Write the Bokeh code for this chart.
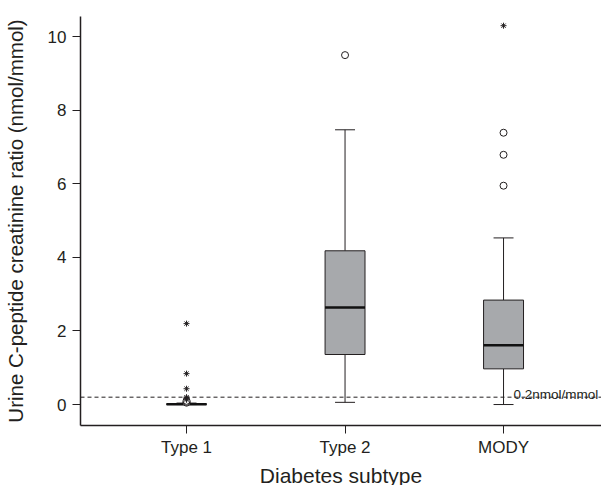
from bokeh.plotting import figure
from bokeh.models import Range1d, Span, Label, FixedTicker, ColumnDataSource
from bokeh.transform import dodge
from bokeh.embed import file_html
from bokeh.resources import INLINE

# ---- data ----
categories = ["Type 1", "Type 2", "MODY"]
xpos = [1, 2, 3]
q1 = [0.0, 1.36, 0.97]
median = [0.005, 2.64, 1.61]
q3 = [0.02, 4.18, 2.84]
lower_whisker = [0.0, 0.06, 0.0]
upper_whisker = [0.04, 7.47, 4.53]

circle_x = [1, 1, 1, 2, 3, 3, 3]
circle_y = [0.05, 0.07, 0.10, 9.50, 5.95, 6.79, 7.39]
star_x = [1, 1, 1, 1, 1, 1, 3]
star_y = [0.13, 0.17, 0.20, 0.43, 0.84, 2.20, 10.30]

threshold = 0.2
threshold_label = "0.2nmol/mmol"
y_ticks = [0, 2, 4, 6, 8, 10]

FONT = "Liberation Sans"
DARK = "#231f20"

p = figure(width=601, height=485, output_backend="svg", toolbar_location=None,
           x_range=Range1d(0.331, 3.618), y_range=Range1d(-0.57, 10.55),
           min_border_left=80, min_border_right=0, min_border_top=16, min_border_bottom=60)
p.frame_width = 521
p.frame_height = 409
p.outline_line_color = None
p.xgrid.visible = False
p.ygrid.visible = False
p.background_fill_color = "white"

src = ColumnDataSource(dict(x=xpos, q1=q1, med=median, q3=q3, lw=lower_whisker, uw=upper_whisker))
bw = 0.252
cap = 0.063
# whiskers
p.segment(x0="x", y0="q3", x1="x", y1="uw", source=src, line_color=DARK, line_width=1)
p.segment(x0="x", y0="lw", x1="x", y1="q1", source=src, line_color=DARK, line_width=1)
p.segment(x0=dodge("x", -cap), y0="uw", x1=dodge("x", cap), y1="uw", source=src, line_color=DARK, line_width=1)
p.segment(x0=dodge("x", -cap), y0="lw", x1=dodge("x", cap), y1="lw", source=src, line_color=DARK, line_width=1)
# boxes
p.vbar(x="x", width=bw, bottom="q1", top="q3", source=src, fill_color="#a7a9ac",
       line_color=DARK, line_width=1)
p.segment(x0=dodge("x", -bw / 2), y0="med", x1=dodge("x", bw / 2), y1="med", source=src,
          line_color="#111111", line_width=2.5)

# threshold
p.add_layout(Span(location=threshold, dimension="width", line_color=DARK,
                  line_dash="4 3", line_width=1))
p.add_layout(Label(x=3.063, y=threshold, y_offset=3, text=threshold_label,
                   text_font=FONT, text_font_size="13.5px", text_color=DARK,
                   text_baseline="alphabetic"))

# outliers
p.scatter(circle_x, circle_y, marker="circle", size=7, fill_color="white",
          line_color=DARK, line_width=1)
p.scatter(star_x, star_y, marker="asterisk", size=6, line_color=DARK, line_width=1)

# axes
p.xaxis.ticker = FixedTicker(ticks=xpos)
p.xaxis.major_label_overrides = {x: c for x, c in zip(xpos, categories)}
p.yaxis.ticker = FixedTicker(ticks=y_ticks)
for ax in (p.xaxis[0], p.yaxis[0]):
    ax.axis_line_color = DARK
    ax.axis_line_width = 1.5
    ax.major_tick_line_color = DARK
    ax.major_tick_out = 8
    ax.major_tick_in = 0
    ax.minor_tick_line_color = None
    ax.major_label_text_font = FONT
    ax.major_label_text_font_size = "17px"
    ax.major_label_text_color = DARK
    ax.axis_label_text_font = FONT
    ax.axis_label_text_font_style = "normal"
    ax.axis_label_text_color = DARK
p.xaxis.axis_label_text_font_size = "21px"
p.yaxis.axis_label_text_font_size = "20.5px"
p.xaxis.axis_label = "Diabetes subtype"
p.yaxis.axis_label = "Urine C-peptide creatinine ratio (nmol/mmol)"
p.xaxis.major_label_standoff = 4
p.xaxis.axis_label_standoff = 4
p.yaxis.major_label_standoff = 6
p.yaxis.axis_label_standoff = 18

open("out.html", "w").write(file_html(p, INLINE))
